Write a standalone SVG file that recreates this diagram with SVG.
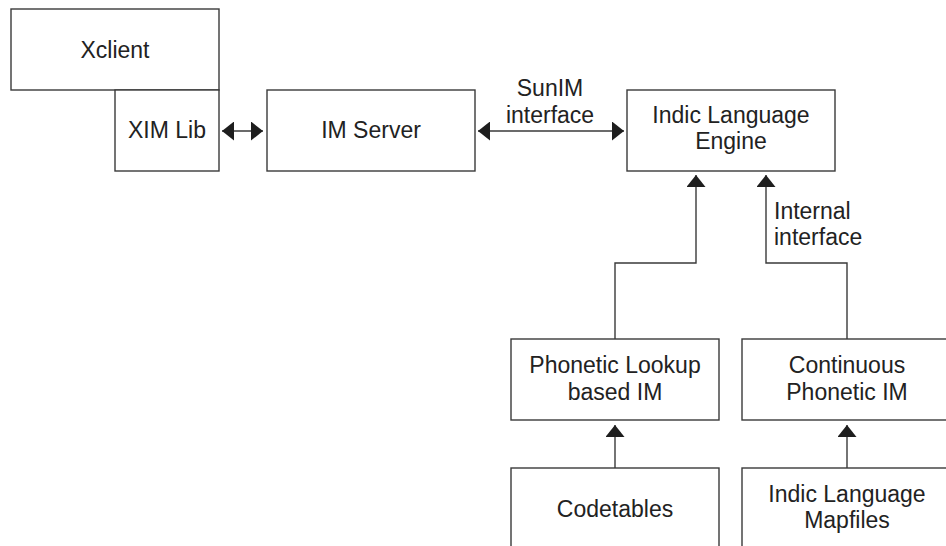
<svg xmlns="http://www.w3.org/2000/svg" width="946" height="546" viewBox="0 0 946 546">
  <style>
    .box { fill: #ffffff; stroke: #3a3a3a; stroke-width: 1.4; }
    .wire { fill: none; stroke: #3a3a3a; stroke-width: 1.4; }
    text { font-family: "Liberation Sans", Arial, Helvetica, sans-serif; font-size: 23px; fill: #222222; }
    .c { text-anchor: middle; }
  </style>
  <defs>
    <marker id="head" viewBox="0 0 12 19" refX="12" refY="9.5" markerWidth="12" markerHeight="19" markerUnits="userSpaceOnUse" orient="auto-start-reverse">
      <path d="M0,0 L12,9.5 L0,19 Z" fill="#1e1e1e"/>
    </marker>
  </defs>
  <rect width="946" height="546" fill="#ffffff"/>

  <g id="xclient">
    <rect class="box" x="11" y="9" width="208" height="81"/>
    <text class="c" x="115" y="58">Xclient</text>
  </g>
  <g id="ximlib">
    <rect class="box" x="115" y="90" width="104" height="81"/>
    <text class="c" x="167" y="138">XIM Lib</text>
  </g>
  <g id="imserver">
    <rect class="box" x="267" y="90" width="208" height="81"/>
    <text class="c" x="371" y="138">IM Server</text>
  </g>
  <g id="engine">
    <rect class="box" x="627" y="90" width="208" height="81"/>
    <text class="c" x="731" y="123">Indic Language</text>
    <text class="c" x="731" y="149">Engine</text>
  </g>
  <g id="phonetic-lookup">
    <rect class="box" x="511" y="339" width="208" height="81"/>
    <text class="c" x="615" y="373">Phonetic Lookup</text>
    <text class="c" x="615" y="400">based IM</text>
  </g>
  <g id="continuous">
    <rect class="box" x="742" y="339" width="220" height="81"/>
    <text class="c" x="847" y="373">Continuous</text>
    <text class="c" x="847" y="400">Phonetic IM</text>
  </g>
  <g id="codetables">
    <rect class="box" x="511" y="468" width="208" height="100"/>
    <text class="c" x="615" y="517">Codetables</text>
  </g>
  <g id="mapfiles">
    <rect class="box" x="742" y="468" width="220" height="100"/>
    <text class="c" x="847" y="502">Indic Language</text>
    <text class="c" x="847" y="528">Mapfiles</text>
  </g>

  <g id="connectors">
    <line class="wire" x1="222" y1="131" x2="263" y2="131" marker-start="url(#head)" marker-end="url(#head)"/>
    <line class="wire" x1="478" y1="131" x2="624" y2="131" marker-start="url(#head)" marker-end="url(#head)"/>
    <polyline class="wire" points="615,339 615,263 696,263 696,175" marker-end="url(#head)"/>
    <polyline class="wire" points="847,339 847,263 766,263 766,175" marker-end="url(#head)"/>
    <line class="wire" x1="615" y1="468" x2="615" y2="425" marker-end="url(#head)"/>
    <line class="wire" x1="847" y1="468" x2="847" y2="425" marker-end="url(#head)"/>
    <text class="c" x="550" y="96">SunIM</text>
    <text class="c" x="550" y="123">interface</text>
    <text x="774" y="219">Internal</text>
    <text x="774" y="245">interface</text>
  </g>
</svg>
